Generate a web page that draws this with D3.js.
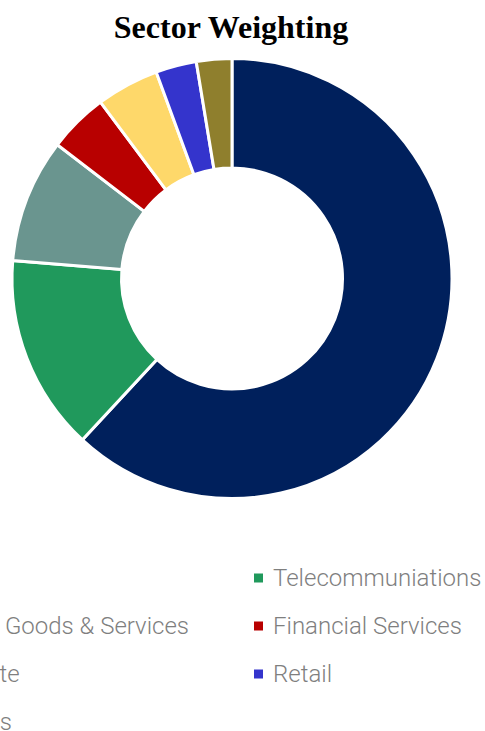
<!DOCTYPE html>
<html lang="en">
<head>
    <meta charset="UTF-8">
    <title>Sector Weighting</title>
    <script src="https://d3js.org/d3.v7.min.js"></script>
    <style>
        html, body {
            margin: 0;
            padding: 0;
            background: #fff;
            overflow: hidden;
        }
        .title {
            font-family: 'Liberation Serif', 'Times New Roman', serif;
            font-weight: bold;
            font-size: 32px;
            fill: #000;
            text-anchor: middle;
        }
        .legend-text {
            font-family: Roboto, 'Noto Sans', sans-serif;
            font-weight: 300;
            font-size: 24px;
            fill: #7f7f7f;
        }
    </style>
</head>
<body>
    <div id="chart"></div>
    <script>
        // Sector weights (%), read clockwise from 12 o'clock
        const sectors = ["Utilities", "Telecommuniations", "Industrial Goods & Services",
            "Financial Services", "Real Estate", "Retail", "Chemicals"];
        const weights = [61.9, 14.4, 9.1, 4.4, 4.6, 3.0, 2.6];
        const colors = ["#00205c", "#20995c", "#6a958f", "#b80000", "#fed86a", "#3434cc", "#8f7f2d"];

        const width = 485;
        const height = 731;
        const cx = 232;
        const cy = 278.5;
        const outerR = 220;
        const innerR = 110.5;

        const svg = d3.select("#chart")
            .append("svg")
            .attr("width", width)
            .attr("height", height);

        svg.append("text")
            .attr("class", "title")
            .attr("x", 231)
            .attr("y", 38)
            .text("Sector Weighting");

        const data = sectors.map((s, i) => ({ sector: s, value: weights[i], color: colors[i] }));

        const pie = d3.pie()
            .sort(null)
            .value(d => d.value);

        const arc = d3.arc()
            .innerRadius(innerR)
            .outerRadius(outerR);

        svg.append("g")
            .attr("transform", `translate(${cx},${cy})`)
            .selectAll("path")
            .data(pie(data))
            .enter()
            .append("path")
            .attr("d", arc)
            .attr("fill", d => d.data.color)
            .attr("stroke", "#fff")
            .attr("stroke-width", 3);

        // Legend: two columns, row-major, wider than the page so the left column is clipped
        const rightSquareX = 254;
        const textOffset = 19;
        const rowY = d3.scaleLinear().domain([0, 1]).range([586, 634]);

        const legend = svg.append("g");
        const items = legend.selectAll("g")
            .data(data)
            .enter()
            .append("g");

        items.append("text")
            .attr("class", "legend-text")
            .attr("y", (d, i) => rowY(Math.floor(i / 2)))
            .text(d => d.sector);

        // left column is placed so that its second-row label ends where the reference shows it
        const tealWidth = items.filter((d, i) => i === 2).select("text").node().getComputedTextLength();
        const colW = rightSquareX + textOffset - (189 - tealWidth);

        items.each(function(d, i) {
            const sx = rightSquareX - (i % 2 === 0 ? colW : 0);
            const g = d3.select(this);
            g.select("text").attr("x", sx + textOffset);
            g.append("rect")
                .attr("x", sx)
                .attr("y", rowY(Math.floor(i / 2)) - 12.5)
                .attr("width", 9)
                .attr("height", 9)
                .attr("fill", d.color);
        });
    </script>
</body>
</html>
